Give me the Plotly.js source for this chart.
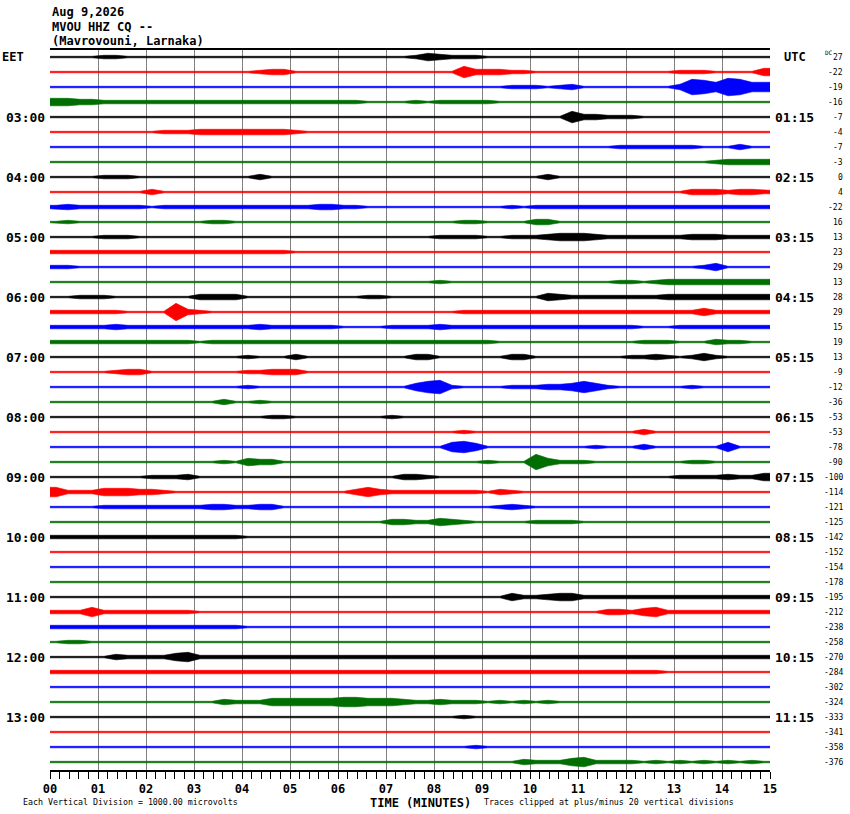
<!DOCTYPE html>
<html>
<head>
<meta charset="utf-8">
<script src="https://cdn.plot.ly/plotly-3.0.1.min.js"></script>
<style>
body{margin:0;background:#fff}
#heli{width:850px;height:814px}
</style>
</head>
<body>
<div id="heli"></div>
<script>
// trace colours cycle per 15-minute row
var traceColors = ['#000000', '#ff0000', '#0000ff', '#006e00'];

var dcOffsets = [27, -22, -19, -16, -7, -4, -7, -3, 0, 4, -22, 16, 13, 23, 29, 13,
                 28, 29, 15, 19, 13, -9, -12, -36, -53, -53, -78, -90, -100, -114, -121, -125,
                 -142, -152, -154, -178, -195, -212, -238, -258, -270, -284, -302, -324, -333, -341, -358, -376];

var eetLabels = ['03:00', '04:00', '05:00', '06:00', '07:00', '08:00', '09:00', '10:00', '11:00', '12:00', '13:00'];
var utcLabels = ['01:15', '02:15', '03:15', '04:15', '05:15', '06:15', '07:15', '08:15', '09:15', '10:15', '11:15'];
var tickLabels = ['00', '01', '02', '03', '04', '05', '06', '07', '08', '09', '10', '11', '12', '13', '14', '15'];

// amplitude envelope of each row (half height in px), one char per 15 s, one group per minute
var envelope = [
  "1111 2211 1111 1111 1111 1111 1111 1124 3222 1111 1111 1111 1111 1111 1111",
  "1111 1111 1111 1111 1233 1111 1111 1111 1163 3322 1111 1111 1111 2221 1114",
  "1111 1111 1111 1111 1111 1111 1111 1111 1111 1122 2123 1111 1111 3875 9855",
  "4433 2222 2222 2222 2222 2222 2211 1121 2222 2111 1111 1111 1111 1111 1111",
  "1111 1111 1111 1111 1111 1111 1111 1111 1111 1111 1116 3322 2111 1111 1111",
  "1111 1111 1222 3333 3333 2111 1111 1111 1111 1111 1111 1111 1111 1111 1111",
  "1111 1111 1111 1111 1111 1111 1111 1111 1111 1111 1111 1112 2222 2211 1311",
  "1111 1111 1111 1111 1111 1111 1111 1111 1111 1111 1111 1111 1111 1112 3333",
  "1111 2221 1111 1111 1311 1111 1111 1111 1111 1111 1311 1111 1111 1111 1111",
  "1111 1111 3111 1111 1111 1111 1111 1111 1111 1111 1111 1111 1111 1333 2332",
  "2322 2222 1222 2222 2222 2233 2211 1111 1111 1121 2222 2222 2222 2222 2222",
  "1211 1111 1111 1221 1111 1111 1111 1111 1122 1111 3311 1111 1111 1111 1111",
  "1111 2221 1111 1111 1111 1111 1111 1111 2222 1122 2344 4322 2222 2333 2222",
  "2222 2222 2222 2222 2222 1111 1111 1111 1111 1111 1111 1111 1111 1111 1111",
  "2211 1111 1111 1111 1111 1111 1111 1111 1111 1111 1111 1111 1111 1124 1111",
  "1111 1111 1111 1111 1111 1111 1111 1111 2111 1111 1111 1112 2123 3333 3333",
  "1122 2111 1111 3333 1111 1111 1122 1111 1111 1111 1432 2222 2223 3333 3333",
  "2222 2211 1193 2111 1111 1111 1111 1111 1122 2222 2222 2222 2222 2242 2222",
  "2222 2322 2222 2222 2322 2222 1111 2222 3222 2222 2222 2222 2111 2222 2222",
  "2222 2222 2222 1222 2222 2222 2222 2222 2222 2111 1111 1111 1222 1113 2211",
  "1111 1111 1111 1111 2111 3111 1111 1133 1111 1133 1111 1111 2232 1242 1111",
  "1111 1233 1111 1111 2233 3111 1111 1111 1111 1111 1111 1111 1111 1111 1111",
  "1111 1111 1111 1111 2111 1111 1111 1146 7211 1122 2334 6421 1111 1211 1111",
  "1111 1111 1111 1131 1211 1111 1111 1111 1111 1111 1111 1111 1111 1111 1111",
  "1111 1111 1111 1111 1122 1111 1111 2111 1111 1111 1111 1111 1111 1111 1111",
  "1111 1111 1111 1111 1111 1111 1111 1111 1121 1111 1111 1111 1311 1111 1111",
  "1111 1111 1111 1111 1111 1111 1111 1111 1564 1111 1111 1211 1311 1111 5111",
  "1111 1111 1111 1121 4331 1111 1111 1111 1111 2111 8422 2111 1111 1221 1111",
  "1111 1111 2223 1111 1111 1111 1111 1332 1111 1111 1111 1111 1111 2222 3224",
  "5222 4443 3211 1111 1111 1111 1353 2222 2222 1321 1111 1111 1111 1111 1111",
  "1111 2222 2222 2332 2331 1111 1111 1111 1111 1232 1111 1111 1111 1111 1111",
  "1111 1111 1111 1111 1111 1111 1111 3322 4321 1111 2222 1111 1111 1111 1111",
  "2222 2222 2222 2222 1111 1111 1111 1111 1111 1111 1111 1111 1111 1111 1111",
  "1111 1111 1111 1111 1111 1111 1111 1111 1111 1111 1111 1111 1111 1111 1111",
  "1111 1111 1111 1111 1111 1111 1111 1111 1111 1111 1111 1111 1111 1111 1111",
  "1111 1111 1111 1111 1111 1111 1111 1111 1111 1111 1111 1111 1111 1111 1111",
  "1111 1111 1111 1111 1111 1111 1111 1111 1111 1142 2344 2222 2222 2222 2222",
  "2225 2222 2222 1111 1111 1111 1111 1111 1111 1111 1111 1133 2452 2222 2222",
  "2222 2222 2222 2222 1111 1111 1111 1111 1111 1111 1111 1111 1111 1111 1111",
  "1221 1111 1111 1111 1111 1111 1111 1111 1111 1111 1111 1111 1111 1111 1111",
  "1111 1322 2245 2222 2222 2222 2222 2222 2222 2222 2222 2222 2222 2222 2222",
  "2222 2222 2222 2222 2222 2222 2222 2222 2222 2222 2222 2222 2221 1111 1111",
  "1111 1111 1111 1111 1111 1111 1111 1111 1111 1111 1111 1111 1111 1111 1111",
  "1111 1111 1111 1132 2244 4444 5544 4322 3222 1212 1211 1111 1111 1111 1111",
  "1111 1111 1111 1111 1111 1111 1111 1111 1121 1111 1111 1111 1111 1111 1111",
  "1111 1111 1111 1111 1111 1111 1111 1111 1111 1111 1111 1111 1111 1111 1111",
  "1111 1111 1111 1111 1111 1111 1111 1111 1112 1111 1111 1111 1111 1111 1111",
  "1111 1111 1111 1111 1111 1111 1111 1111 1111 1113 2224 5222 2121 2121 2121"
];

var rowMinutes = 15;
var rowPx = 15;   // px between rows, 1 y unit
var mono = 'DejaVu Sans Mono, monospace';

function plotHeli(){
    var data = [];
    envelope.forEach(function(row, i){
        // half height in y units; the stroke adds its own width on top
        var amp = row.replace(/ /g, '').split('').map(function(c){ return (parseInt(c, 36) - 0.25) / rowPx; });
        var step = rowMinutes / amp.length;
        var xs = [0], up = [-i + amp[0]], dn = [-i - amp[0]];
        amp.forEach(function(a, k){
            xs.push((k + 0.5) * step);
            up.push(-i + a);
            dn.push(-i - a);
        });
        xs.push(rowMinutes);
        up.push(-i + amp[amp.length - 1]);
        dn.push(-i - amp[amp.length - 1]);
        var col = traceColors[i % 4];
        data.push({
            x: xs.concat(xs.slice().reverse()),
            y: up.concat(dn.reverse()),
            mode: 'lines',
            fill: 'toself',
            fillcolor: col,
            line: {color: col, width: 0.6},
            hoverinfo: 'skip',
            showlegend: false
        });
    });

    var ann = [];
    // header
    ['Aug 9,2026', 'MVOU HHZ CQ --', '(Mavrovouni, Larnaka)'].forEach(function(t, k){
        ann.push({text: t, xref: 'paper', yref: 'paper', x: 0, y: (770 - [12, 27, 41][k]) / 720,
                  xanchor: 'left', yanchor: 'middle', showarrow: false,
                  font: {family: mono, size: 12, color: '#000', weight: 'bold'}});
    });
    ann.push({text: 'EET', xref: 'paper', yref: 'y', x: -50 / 720, y: 0, xanchor: 'left', yanchor: 'middle',
              showarrow: false, font: {family: mono, size: 12, color: '#000', weight: 'bold'}});
    ann.push({text: 'UTC', xref: 'paper', yref: 'y', x: 25 / 720 + 1, y: 0, xanchor: 'center', yanchor: 'middle',
              showarrow: false, font: {family: mono, size: 12, color: '#000', weight: 'bold'}});
    eetLabels.forEach(function(t, h){
        ann.push({text: t, xref: 'paper', yref: 'y', x: -3 / 720, y: -4 * (h + 1), xanchor: 'right', yanchor: 'middle',
                  showarrow: false, font: {family: mono, size: 13, color: '#000', weight: 'bold'}});
    });
    utcLabels.forEach(function(t, h){
        ann.push({text: t, xref: 'paper', yref: 'y', x: 1 + 3 / 720, y: -4 * (h + 1), xanchor: 'left', yanchor: 'middle',
                  showarrow: false, font: {family: mono, size: 13, color: '#000', weight: 'bold'}});
    });
    dcOffsets.forEach(function(v, i){
        ann.push({text: String(v), xref: 'paper', yref: 'y', x: 1 + 75 / 720, y: -i, xanchor: 'right', yanchor: 'middle',
                  showarrow: false, font: {family: mono, size: 8, color: '#000'}});
    });
    ann.push({text: 'DC', xref: 'paper', yref: 'y', x: 1 + 75 / 720 - 10 / 720, y: 0.3, xanchor: 'right', yanchor: 'middle',
              showarrow: false, font: {family: mono, size: 6, color: '#000'}});
    // footer
    ann.push({text: 'TIME (MINUTES)', xref: 'paper', yref: 'paper', x: (421 - 50) / 720, y: -33 / 720,
              xanchor: 'center', yanchor: 'middle', showarrow: false,
              font: {family: mono, size: 12, color: '#000', weight: 'bold'}});
    ann.push({text: 'Each Vertical Division = 1000.00 microvolts', xref: 'paper', yref: 'paper', x: -29 / 720, y: -32 / 720,
              xanchor: 'left', yanchor: 'middle', showarrow: false, font: {family: mono, size: 8.3, color: '#000'}});
    ann.push({text: 'Traces clipped at plus/minus 20 vertical divisions', xref: 'paper', yref: 'paper', x: (482 - 50) / 720, y: -32 / 720,
              xanchor: 'left', yanchor: 'middle', showarrow: false, font: {family: mono, size: 8.3, color: '#000'}});

    var layout = {
        width: 850,
        height: 814,
        margin: {l: 50, r: 80, t: 50, b: 44},
        paper_bgcolor: '#fff',
        plot_bgcolor: '#fff',
        showlegend: false,
        hovermode: false,
        xaxis: {
            range: [0, rowMinutes],
            tickvals: tickLabels.map(function(t){ return +t; }),
            ticktext: tickLabels,
            ticks: 'outside', ticklen: 7, tickwidth: 1, tickcolor: '#000',
            minor: {dtick: 0.2, ticks: 'outside', ticklen: 7, tickwidth: 1, tickcolor: '#000', showgrid: false},
            showgrid: true, gridcolor: '#808080', gridwidth: 1,
            showline: true, linecolor: '#000', linewidth: 2, mirror: true,
            zeroline: false, fixedrange: true,
            tickfont: {family: mono, size: 12, color: '#000', weight: 'bold'}
        },
        yaxis: {
            range: [-47.53, 0.47],
            visible: false,
            showgrid: false, zeroline: false, fixedrange: true
        },
        annotations: ann
    };
    Plotly.newPlot('heli', data, layout, {displayModeBar: false, staticPlot: true});
}
plotHeli();
</script>
</body>
</html>
